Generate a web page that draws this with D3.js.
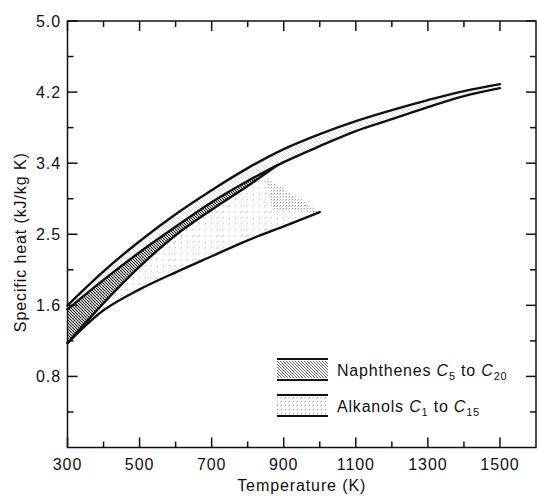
<!DOCTYPE html>
<html><head><meta charset="utf-8">
<script src="https://cdn.jsdelivr.net/npm/d3@7"></script>
<style>
body{margin:0;background:#fff}
svg{display:block}
text{font-family:"Liberation Sans",Arial,Helvetica,sans-serif;fill:#111}
</style>
</head><body>
<svg id="chart" width="537" height="496"></svg>
<script>
// ---------- data (temperature K, specific heat kJ/kg K) ----------
const temps = [300,400,500,600,700,800,900,1000,1100,1200,1300,1400,1500];
const naphUpper = [1.675,2.076,2.430,2.748,3.031,3.291,3.515,3.692,3.845,3.975,4.093,4.199,4.281];
const naphLower = [1.628,1.975,2.300,2.600,2.890,3.140,3.361,3.550,3.727,3.868,4.010,4.140,4.234];
const alkUpperT = [300,400,500,600,700,800,880];
const alkUpper  = [1.230,1.700,2.130,2.500,2.800,3.080,3.318];
const alkTipT = [850,1000];
const alkTip  = [3.18,2.772];
const alkDenseT = [850,1000,870];
const alkDense  = [3.18,2.772,2.80];
const alkLowerT = [300,400,500,600,700,800,900,1000];
const alkLower  = [1.230,1.616,1.863,2.064,2.253,2.441,2.606,2.772];
// axis ticks
const xTicks = [300,500,700,900,1100,1300,1500];
const xMinor = [400,600,800,1000,1200,1400];
const yTickLabels = ["0.8","1.6","2.5","3.4","4.2","5.0"];
const yStep = 0.8374; // 0.2 Btu/lb°F expressed in kJ/kg K

// ---------- layout ----------
const svg = d3.select("#chart");
const L = 67.5, R = 536, T = 21, B = 447.5;
const x = d3.scaleLinear().domain([300,1600]).range([L,R]);
const y = d3.scaleLinear().domain([0,6*yStep]).range([B,T]);
const yMajor = d3.range(1,7).map(i=>i*yStep);
const yMinorV = d3.range(0,6).map(i=>(i+0.5)*yStep);

// ---------- patterns ----------
const defs = svg.append("defs");
function hatch(id, size, color, w){
  defs.append("pattern").attr("id",id).attr("patternUnits","userSpaceOnUse")
    .attr("width",size).attr("height",size)
    .append("path").attr("d",`M0,0L${size},${size}M${-size},0L0,${size}M${size},0L${2*size},${size}`)
    .attr("stroke",color).attr("stroke-width",w).attr("fill","none");
}
hatch("naphDense",3,"#262626",1.2);
hatch("naphFaint",4,"#d0d0d0",0.7);
hatch("naphLegend",3,"#6a6a6a",1);
function stip(id,size,color){
  defs.append("pattern").attr("id",id).attr("patternUnits","userSpaceOnUse")
    .attr("width",size).attr("height",size)
    .append("path").attr("d","M0.5,2.5L2,1").attr("stroke",color).attr("stroke-width",1);
}
stip("alkStip",6,"#c4c4c4");
stip("alkDense",3,"#9a9a9a");
stip("alkLegend",4,"#b0b0b0");

// ---------- helpers ----------
const curve = d3.curveCatmullRom.alpha(0.5);
const lineGen = d3.line().x(d=>x(d[0])).y(d=>y(d[1])).curve(curve);
const pts = (ts, vs) => ts.map((t,i)=>[t, vs[i]]);
function band(upper, lower){
  return lineGen(upper) + lineGen(lower.slice().reverse()).replace(/^M/,"L") + "Z";
}

const pA = pts(temps, naphUpper);
const pB = pts(temps, naphLower);
const pC = pts(alkUpperT, alkUpper);
const pD = pts(alkLowerT, alkLower);
const pTipUpper = pC.filter(d=>d[0]<=800).concat(pts(alkTipT, alkTip));

// ---------- fills ----------
const g = svg.append("g");
g.append("path").attr("d", band(pTipUpper, pD)).attr("fill","url(#alkStip)");
g.append("path").attr("d", d3.line().x(d=>x(d[0])).y(d=>y(d[1]))(pts(alkDenseT, alkDense))+"Z")
  .attr("fill","url(#alkDense)");
g.append("path").attr("d", band(pA, pB)).attr("fill","url(#naphFaint)");
g.append("path").attr("d", band(pB.filter(d=>d[0]<=900), pC)).attr("fill","url(#naphDense)");

// ---------- curves ----------
[pA, pB, pC, pD].forEach(p=>{
  g.append("path").attr("d", lineGen(p)).attr("fill","none")
    .attr("stroke","#111").attr("stroke-width",2.4).attr("stroke-linecap","round");
});

// ---------- frame & ticks ----------
const ax = svg.append("g").attr("stroke","#111").attr("stroke-width",1.5);
ax.append("rect").attr("x",L).attr("y",T).attr("width",R-L).attr("height",B-T).attr("fill","none");
const maj = 10, mnr = 6;
xTicks.concat(xMinor).forEach(t=>{
  const len = xTicks.includes(t)?maj:mnr;
  ax.append("line").attr("x1",x(t)).attr("x2",x(t)).attr("y1",B).attr("y2",B-len);
  ax.append("line").attr("x1",x(t)).attr("x2",x(t)).attr("y1",T).attr("y2",T+len);
});
yMajor.concat(yMinorV).forEach((v,i)=>{
  const len = i<yMajor.length?maj:mnr;
  ax.append("line").attr("x1",L).attr("x2",L+len).attr("y1",y(v)).attr("y2",y(v));
  ax.append("line").attr("x1",R).attr("x2",R-len).attr("y1",y(v)).attr("y2",y(v));
});

// ---------- labels ----------
const lab = svg.append("g").style("font-size","16px").style("letter-spacing","0.9px");
xTicks.forEach(t=>{
  lab.append("text").attr("x",x(t)).attr("y",470).attr("text-anchor","middle").text(t);
});
yMajor.forEach((v,i)=>{
  lab.append("text").attr("x",61).attr("y",y(v)+6).attr("text-anchor","end").text(yTickLabels[i]);
});
lab.append("text").attr("x",(L+R)/2).attr("y",491).attr("text-anchor","middle").text("Temperature (K)");
lab.append("text").attr("transform",`translate(26,${(T+B)/2+8}) rotate(-90)`)
  .attr("text-anchor","middle").text("Specific heat (kJ/kg K)");

// ---------- legend ----------
const legend = [
  {name:"Naphthenes ", a:"5", b:"20", fill:"url(#naphLegend)", top:359, bot:380},
  {name:"Alkanols ", a:"1", b:"15", fill:"url(#alkLegend)", top:395, bot:416}
];
const lg = svg.append("g");
legend.forEach(d=>{
  lg.append("rect").attr("x",277).attr("y",d.top+2).attr("width",51).attr("height",d.bot-d.top-4).attr("fill",d.fill);
  [d.top,d.bot].forEach(yy=>lg.append("line").attr("x1",277).attr("x2",328).attr("y1",yy).attr("y2",yy)
    .attr("stroke","#111").attr("stroke-width",2));
  const tx = lg.append("text").attr("x",337).attr("y",(d.top+d.bot)/2+6)
    .style("font-size","16px").style("letter-spacing","0.8px");
  tx.append("tspan").text(d.name);
  tx.append("tspan").style("font-style","italic").text("C");
  tx.append("tspan").attr("dy",4).style("font-size","11px").text(d.a);
  tx.append("tspan").attr("dy",-4).text(" to ");
  tx.append("tspan").style("font-style","italic").text("C");
  tx.append("tspan").attr("dy",4).style("font-size","11px").text(d.b);
});
</script>
</body></html>
